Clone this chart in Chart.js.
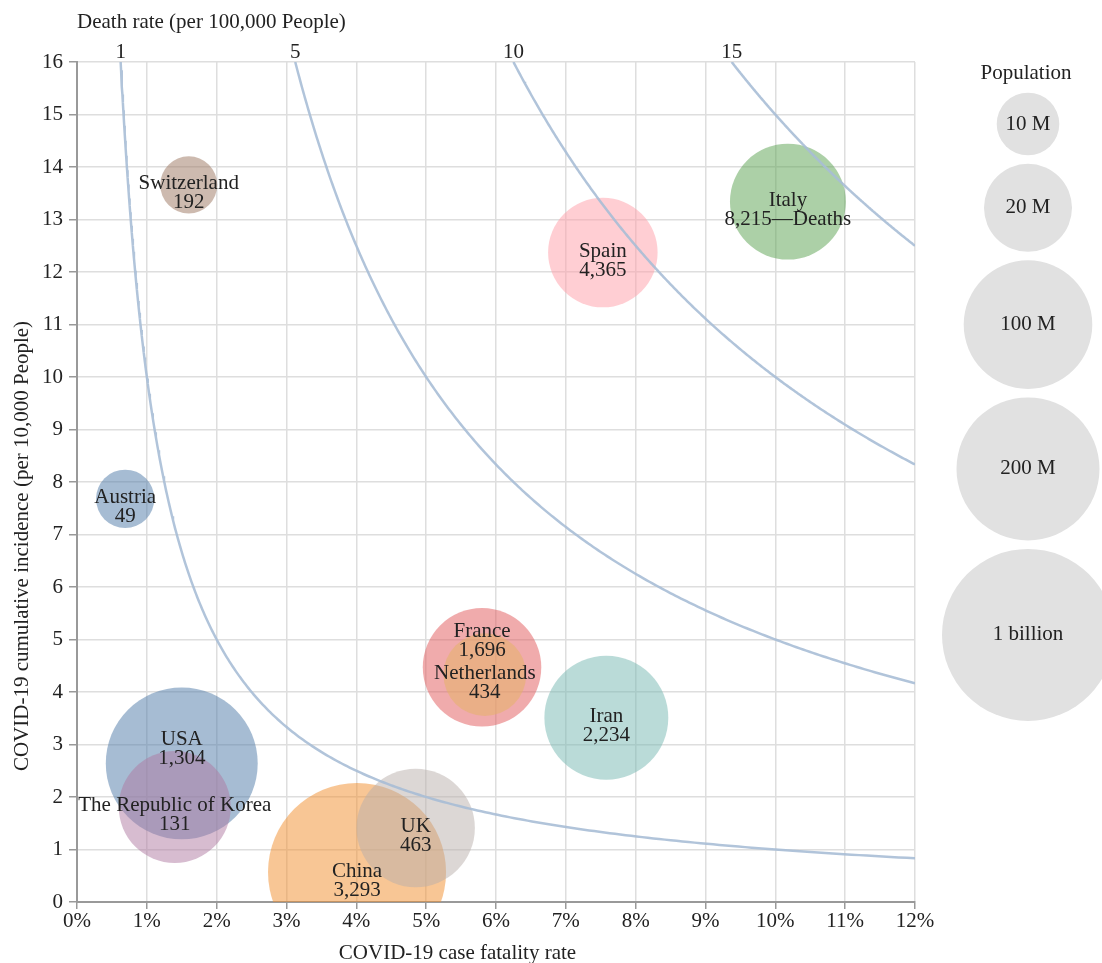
<!DOCTYPE html>
<html>
<head>
<meta charset="utf-8">
<script src="https://cdn.jsdelivr.net/npm/chart.js@4.4.1/dist/chart.umd.min.js"></script>
<style>
  html, body { margin: 0; padding: 0; background: #fff; }
  #wrap { width: 1102px; height: 963px; position: relative; }
</style>
</head>
<body>
<div id="wrap"><canvas id="covidChart"></canvas></div>
<script>
// Countries, in drawing order (later ones sit on top)
const countries = ["Switzerland", "Italy", "Spain", "Austria", "France", "Netherlands", "Iran", "USA", "The Republic of Korea", "China", "UK"];
// COVID-19 case fatality rate (%)
const fatalityRate = [1.60, 10.18, 7.53, 0.69, 5.80, 5.84, 7.58, 1.50, 1.40, 4.01, 4.85];
// cumulative incidence (per 10,000 people)
const incidence = [13.66, 13.34, 12.37, 7.68, 4.47, 4.33, 3.51, 2.64, 1.81, 0.57, 1.41];
// total deaths
const deaths = [192, 8215, 4365, 49, 1696, 434, 2234, 1304, 131, 3293, 463];
// population (millions)
const population = [8.6, 60.4, 46.9, 8.9, 67, 17.3, 83, 328, 51.7, 1400, 66.6];

// iso-lines of death rate (per 100,000 people), also the top axis ticks
const deathRates = [1, 5, 10, 15];

// population legend
const legendPopulation = [10, 20, 100, 200, 1000];
const legendLabels = ["10 M", "20 M", "100 M", "200 M", "1 billion"];

const xMax = 12;
const yMax = 16;

// colours, half transparent
const bubbleColors = [
  "rgba(156,117,95,0.5)", "rgba(89,161,79,0.5)", "rgba(255,157,167,0.5)",
  "rgba(78,121,167,0.5)", "rgba(225,87,89,0.5)", "rgba(230,180,100,0.5)",
  "rgba(118,183,178,0.5)", "rgba(78,121,167,0.5)", "rgba(176,122,161,0.5)",
  "rgba(242,142,44,0.5)", "rgba(186,176,172,0.5)"
];

// radius (px) that each legend population gets; values between are log interpolated
const radiusStops = [31.3, 44, 64.3, 71.5, 86];
function radiusFor(p) {
  const logs = legendPopulation.map(Math.log);
  const lp = Math.log(p);
  let i = 0;
  while (i < logs.length - 2 && lp > logs[i + 1]) i++;
  const t = (lp - logs[i]) / (logs[i + 1] - logs[i]);
  return radiusStops[i] + t * (radiusStops[i + 1] - radiusStops[i]);
}

// labels moved up so they don't collide
const labelShift = { "France": -35, "USA": -23 };
const deathsNote = "Italy";

const FONT = "'Liberation Serif', 'Times New Roman', serif";
const TEXT = "#222";
Chart.defaults.font.family = FONT;
Chart.defaults.font.size = 21;
Chart.defaults.color = TEXT;

// death rate curves: incidence = 10 * rate / fatality
const curveSets = deathRates.map((d) => {
  const xStart = 10 * d / yMax;
  const pts = [];
  const n = 300;
  for (let k = 0; k <= n; k++) {
    const x = xStart * Math.pow(xMax / xStart, k / n);
    pts.push({ x: x, y: 10 * d / x });
  }
  return {
    type: "scatter",
    data: pts,
    showLine: true,
    pointRadius: 0,
    borderColor: "rgba(168,190,214,0.9)",
    borderWidth: 2.5,
    order: 1,
  };
});

const bubbleSet = {
  type: "bubble",
  data: countries.map((c, i) => ({ x: fatalityRate[i], y: incidence[i], r: radiusFor(population[i]) })),
  backgroundColor: bubbleColors,
  borderWidth: 0,
  clip: 0,
  order: 2,
};

// country name + deaths inside each bubble
const bubbleLabels = {
  id: "bubbleLabels",
  afterDatasetsDraw(chart) {
    const ctx = chart.ctx;
    const meta = chart.getDatasetMeta(chart.data.datasets.indexOf(bubbleSet));
    ctx.save();
    ctx.font = "21px " + FONT;
    ctx.fillStyle = TEXT;
    ctx.textAlign = "center";
    ctx.textBaseline = "alphabetic";
    meta.data.forEach((pt, i) => {
      const y = pt.y + 4.5 + (labelShift[countries[i]] || 0);
      const note = countries[i] === deathsNote ? "\u2014Deaths" : "";
      ctx.fillText(countries[i], pt.x, y);
      ctx.fillText(deaths[i].toLocaleString("en-US") + note, pt.x, y + 19);
    });
    ctx.restore();
  },
};

// axis titles and population legend
const extras = {
  id: "extras",
  afterDraw(chart) {
    const ctx = chart.ctx;
    const area = chart.chartArea;
    ctx.save();
    ctx.font = "21px " + FONT;
    ctx.fillStyle = TEXT;
    ctx.textAlign = "center";
    ctx.textBaseline = "alphabetic";
    ctx.fillText("COVID-19 case fatality rate", area.right / 2, 959);

    ctx.save();
    ctx.translate(28, 546);
    ctx.rotate(-Math.PI / 2);
    ctx.fillText("COVID-19 cumulative incidence (per 10,000 People)", 0, 0);
    ctx.restore();

    const cx = area.right + 113;
    ctx.fillText("Population", cx - 2, 79);
    let top = 92.7;
    ctx.textBaseline = "middle";
    legendPopulation.forEach((p, i) => {
      const r = radiusFor(p);
      const cy = top + r;
      ctx.beginPath();
      ctx.arc(cx, cy, r, 0, Math.PI * 2);
      ctx.fillStyle = "rgb(225,225,225)";
      ctx.fill();
      ctx.fillStyle = TEXT;
      ctx.fillText(legendLabels[i], cx, cy);
      top = cy + r + 8.5;
    });
    ctx.restore();
  },
};

new Chart(document.getElementById("covidChart"), {
  data: { datasets: [...curveSets, bubbleSet] },
  options: {
    responsive: true,
    maintainAspectRatio: false,
    animation: false,
    events: [],
    layout: { autoPadding: false, padding: { left: 0, right: 187, top: 0, bottom: 0 } },
    plugins: { legend: { display: false }, tooltip: { enabled: false } },
    scales: {
      x: {
        type: "linear",
        position: "bottom",
        min: 0,
        max: xMax,
        ticks: { stepSize: 1, padding: 3, font: { size: 21, lineHeight: 0.9 }, callback: (v) => v + "%" },
        grid: { color: "#dedede", lineWidth: 1.5, tickLength: 7, tickColor: "#999", tickWidth: 1.5 },
        border: { color: "#999", width: 2 },
        afterFit: (s) => { s.height = 61; },
      },
      x2: {
        type: "linear",
        position: "top",
        min: 0,
        max: xMax,
        afterBuildTicks: (s) => { s.ticks = deathRates.map((d) => ({ value: 10 * d / yMax })); },
        ticks: { autoSkip: false, maxRotation: 0, padding: 0, font: { size: 21, lineHeight: 0.9 }, callback: (v, i) => String(deathRates[i]) },
        grid: { display: false, drawTicks: false },
        border: { display: false },
        title: { display: true, text: "Death rate (per 100,000 People)", align: "start", padding: { top: 10, bottom: 0 }, font: { size: 21 } },
        afterFit: (s) => { s.height = 62; },
      },
      y: {
        type: "linear",
        min: 0,
        max: yMax,
        ticks: { stepSize: 1, padding: 6, font: { size: 21 } },
        grid: { color: "#dedede", lineWidth: 1.5, tickLength: 8, tickColor: "#999", tickWidth: 1.5 },
        border: { color: "#999", width: 2 },
        afterFit: (s) => { s.width = 77; },
      },
    },
  },
  plugins: [bubbleLabels, extras],
});
</script>
</body>
</html>
